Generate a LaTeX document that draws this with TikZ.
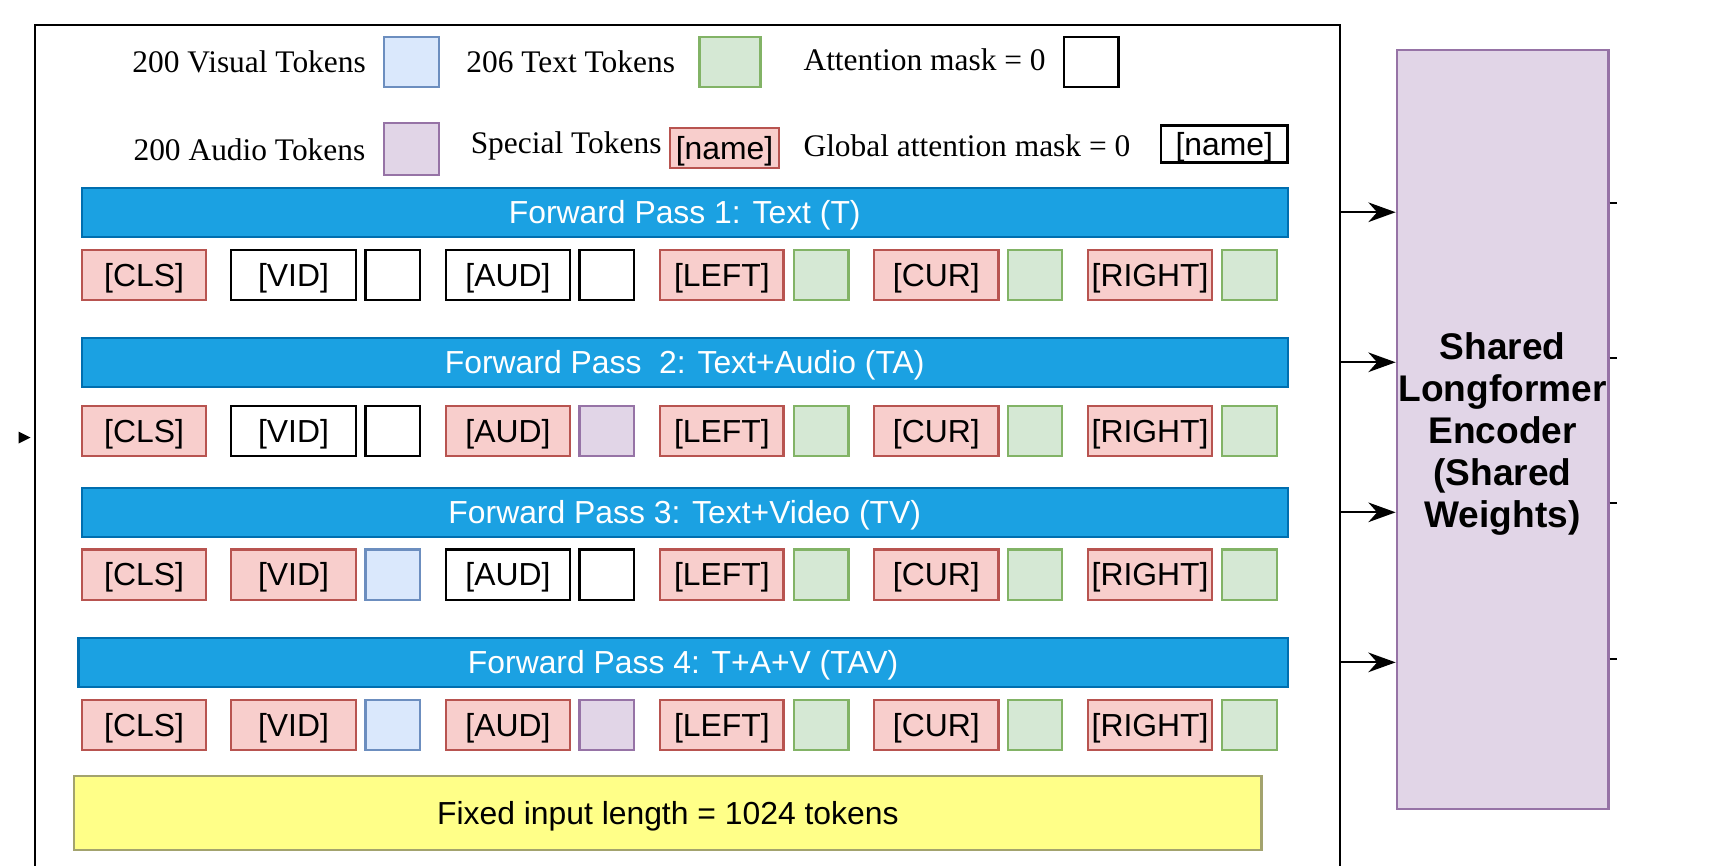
\documentclass[tikz,border=0pt]{standalone}
\usepackage{fontspec}
\setmainfont{Liberation Sans}
\newfontfamily\legendfont{Liberation Serif}
\usetikzlibrary{arrows.meta}

\definecolor{barfill}{HTML}{1BA1E2}
\definecolor{barline}{HTML}{006EAF}
\definecolor{redfill}{HTML}{F8CECC}
\definecolor{redline}{HTML}{B85450}
\definecolor{greenfill}{HTML}{D5E8D4}
\definecolor{greenline}{HTML}{82B366}
\definecolor{bluefill}{HTML}{DAE8FC}
\definecolor{blueline}{HTML}{6C8EBF}
\definecolor{purplefill}{HTML}{E1D5E7}
\definecolor{purpleline}{HTML}{9673A6}
\definecolor{yellowfill}{HTML}{FFFF88}
\definecolor{yellowline}{HTML}{A3A36E}

% one row of input tokens: name prefix, y, then styles for the video/audio parts
\newcommand\tokenrow[6]{%
  \node[tokred,  minimum width=57pt]   (#1cls)   at (132,#2)   {[CLS]};
  \node[#3,      minimum width=57pt]   (#1vid)   at (269,#2)   {[VID]};
  \node[#4]                            (#1vsq)   at (360,#2)   {};
  \node[#5,      minimum width=56.5pt] (#1aud)   at (465.5,#2) {[AUD]};
  \node[#6]                            (#1asq)   at (556,#2)   {};
  \node[tokred,  minimum width=56.5pt] (#1left)  at (661.5,#2) {[LEFT]};
  \node[sqgreen]                       (#1lsq)   at (752.5,#2) {};
  \node[tokred,  minimum width=57pt]   (#1cur)   at (858,#2)   {[CUR]};
  \node[sqgreen]                       (#1csq)   at (948.5,#2) {};
  \node[tokred,  minimum width=57pt]   (#1right) at (1054,#2)  {[RIGHT]};
  \node[sqgreen]                       (#1rsq)   at (1145,#2)  {};
}

\begin{document}
\begin{tikzpicture}[x=0.5pt,y=-0.5pt,
  txt/.style={font=\fontsize{14.6}{17}\selectfont, text height=10.5pt, text depth=0pt},
  legend/.style={inner sep=0pt, anchor=west, font=\legendfont\fontsize{14.4}{17}\selectfont},
  tok/.style={draw, line width=1pt, inner sep=0pt, minimum height=23pt, txt},
  tokred/.style={tok, fill=redfill, draw=redline},
  tokwhite/.style={tok, fill=white, draw=black},
  sq/.style={tok, minimum width=25pt},
  sqwhite/.style={sq, fill=white, draw=black},
  sqgreen/.style={sq, fill=greenfill, draw=greenline},
  sqblue/.style={sq, fill=bluefill, draw=blueline},
  sqpurple/.style={sq, fill=purplefill, draw=purpleline},
  bar/.style={draw=barline, fill=barfill, line width=1pt, inner sep=0pt,
    minimum height=22.5pt, text=white, txt},
  arr/.style={line width=1pt, -{Stealth[length=12.5pt,width=9pt,inset=4pt]}}
]
\useasboundingbox (0,0) rectangle (1568,793);
\clip (0,0) rectangle (1568,793);

% outer frame holding the four passes
\node[draw, line width=1.25pt, minimum width=598pt, minimum height=488.5pt, inner sep=0pt]
  (frame) at (630,511.5) {};

% legend
\node[legend] (lvis) at (121,57) {200 Visual Tokens};
\node[sqblue, minimum height=23pt] (lvissq) at (377,57) {};
\node[legend] (ltxt) at (427,57) {206 Text Tokens};
\node[sq, fill=greenfill, draw=greenline, minimum width=28pt] (ltxtsq) at (669,57) {};
\node[legend] (latt) at (736,55) {Attention mask = 0};
\node[sqwhite] (lattsq) at (1000,57) {};
\node[legend] (laud) at (122,137) {200 Audio Tokens};
\node[sqpurple, minimum height=23.5pt] (laudsq) at (377,136.5) {};
\node[legend] (lspc) at (431,134) {Special Tokens};
\node[tokred, minimum width=50pt, minimum height=18.5pt] (lspcbox) at (664,135.5) {[name]};
\node[legend] (lglb) at (736,134) {Global attention mask = 0};
\node[tokwhite, line width=1.2pt, minimum width=58pt, minimum height=17pt] (lglbbox) at (1122,132) {[name]};

% forward passes
\node[bar, minimum width=552.5pt] (fp1) at (627.5,194.5) {Forward Pass 1: Text (T)};
\tokenrow{a}{252}{tokwhite}{sqwhite}{tokwhite}{sqwhite}
\node[bar, minimum width=552.5pt] (fp2) at (627.5,332) {Forward Pass~~2: Text+Audio (TA)};
\tokenrow{b}{395}{tokwhite}{sqwhite}{tokred}{sqpurple}
\node[bar, minimum width=552.5pt] (fp3) at (627.5,469.5) {Forward Pass 3: Text+Video (TV)};
\tokenrow{c}{526.5}{tokred}{sqblue}{tokwhite}{sqwhite}
\node[bar, minimum width=554pt] (fp4) at (626,607) {Forward Pass 4: T+A+V (TAV)};
\tokenrow{d}{664.5}{tokred}{sqblue}{tokred}{sqpurple}

% input length note
\node[draw=yellowline, fill=yellowfill, line width=1pt, minimum width=544pt,
  minimum height=34pt, inner sep=0pt, txt] (fixed) at (612,745)
  {Fixed input length = 1024 tokens};

% shared encoder
\node[draw=purpleline, fill=purplefill, line width=1pt, minimum width=97pt,
  minimum height=347.5pt, inner sep=0pt] (enc) at (1377,393.5) {};
\node[align=center, inner sep=0pt, font=\bfseries\fontsize{17}{19.2}\selectfont]
  (enctext) at (1377,397.5) {Shared\\Longformer\\Encoder\\(Shared\\Weights)};

% passes into the encoder
\foreach \p in {fp1,fp2,fp3,fp4}
  \draw[arr] (\p -| frame.east) -- (\p -| enc.west);

% outgoing stubs on the encoder's right side
\coordinate (o1) at (1482,186);
\coordinate (o2) at (1482,328);
\coordinate (o3) at (1482,461);
\coordinate (o4) at (1482,604);
\foreach \o in {o1,o2,o3,o4}
  \draw[line width=1pt] (enc.east |- \o) -- (\o);

% incoming tip at the frame's left side
\fill (17,395.5) -- (28,401) -- (17,406.5) -- cycle;
\end{tikzpicture}
\end{document}
